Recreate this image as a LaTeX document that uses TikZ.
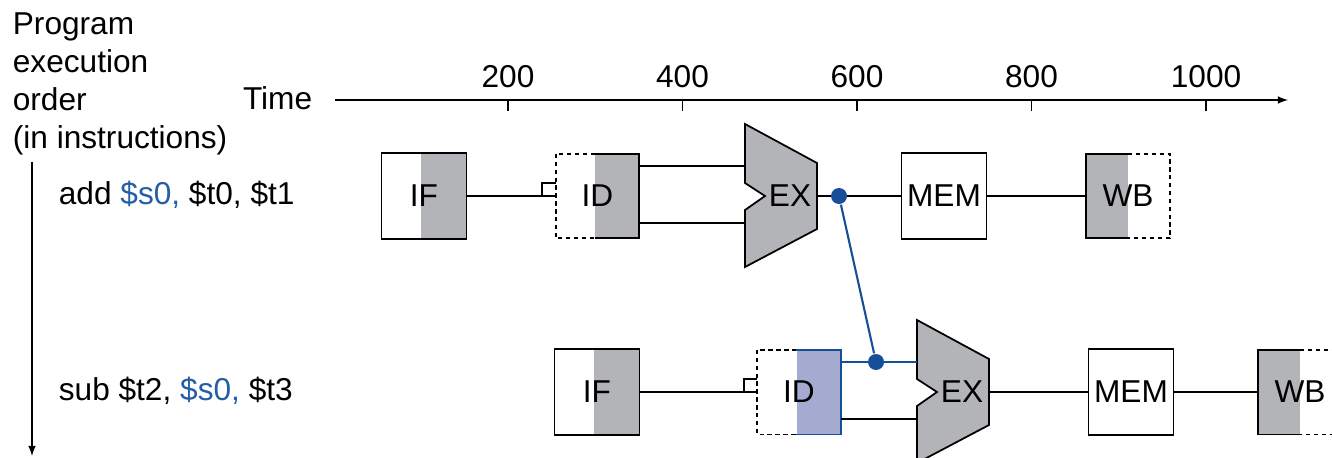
\documentclass[tikz,border=0pt]{standalone}
\usepackage{fontspec}
\setmainfont{Liberation Sans}
\usetikzlibrary{calc}
\definecolor{stagegray}{RGB}{179,180,183}
\definecolor{regblue}{RGB}{165,170,208}
\definecolor{fwdblue}{RGB}{23,78,152}
\definecolor{txtblue}{RGB}{36,94,166}
\begin{document}
\begin{tikzpicture}[x=0.02cm, y=-0.02cm, line width=1pt,
       font=\fontsize{18}{21.6}\selectfont]
       \tikzset{>=latex,
          stage/.style={minimum width=1.7cm, minimum height=1.72cm, inner sep=0pt},
          halfstage/.style={minimum width=1.64cm, minimum height=1.66cm, inner sep=0pt, fill=white},
          ifbox/.style={stage, draw, path picture={\fill[stagegray] ($(path picture bounding box.north west)!0.47!(path picture bounding box.north east)$) rectangle (path picture bounding box.south east);}},
          membox/.style={stage, draw, fill=white},
          idbox/.style={halfstage, path picture={\fill[#1] ($(path picture bounding box.north west)!0.47!(path picture bounding box.north east)$) rectangle (path picture bounding box.south east);}},
          wbbox/.style={halfstage, path picture={\fill[stagegray] (path picture bounding box.north west) rectangle (path picture bounding box.south);}},
          halfdash/.style={dash pattern=on 2.5pt off 2pt},
          fwddot/.style={circle, fill=fwdblue, inner sep=0pt, minimum size=0.32cm},
          lbl/.style={inner sep=0pt}}
       \useasboundingbox (0,0) rectangle (1332,457);
       % labels on the left
       \node[lbl, anchor=north west, align=left] (order) at (12,12) {Program\\execution\\order\\(in instructions)};
       \coordinate (oend) at (32,456);
       \draw[->] (order.south west -| oend) ++(0,6) -- (oend);
       \node[lbl, anchor=west] (add) at (58,195) {add \textcolor{txtblue}{\$s0,} \$t0, \$t1};
       \node[lbl, anchor=west] (sub) at (58,391) {sub \$t2, \textcolor{txtblue}{\$s0,} \$t3};
       % time axis
       \node[lbl, anchor=base east] (time) at (313,109) {Time};
       \coordinate (t0) at (335,100);
       \coordinate (t1) at (1288,100);
       \draw[->] (t0) -- (t1);
       \foreach \v [count=\i from 0] in {200,400,600,800,1000} {
          \draw (508+174.5*\i,100) -- ++(0,11);
          \node[lbl] (tick\v) at (508+174.5*\i,77) {\v};
       }
       % the two EX units
       \foreach \n/\x/\y in {ex1/745/196, ex2/917/392} {
          \filldraw[fill=stagegray] (\x,\y) ++(0,-72) -- ++(72,39) -- ++(0,66) -- ++(-72,38)
             -- ++(0,-57) -- ++(20,-14) -- ++(-20,-13) -- cycle;
          \node[lbl] (\n) at (\x+45,\y) {EX};
          \coordinate (\n-a) at (\x,\y-30);
          \coordinate (\n-b) at (\x,\y+27);
          \coordinate (\n-o) at (\x+72,\y);
       }
       % add
       \node[ifbox] (if1) at (424,196) {IF};
       \node[idbox=stagegray] (id1) at (597.5,196) {ID};
       \node[membox] (mem1) at (944,196) {MEM};
       \node[wbbox] (wb1) at (1128,196) {WB};
       % sub
       \node[ifbox] (if2) at (597,392) {IF};
       \node[idbox=regblue] (id2) at (799,392) {ID};
       \node[membox] (mem2) at (1131,392) {MEM};
       \node[wbbox] (wb2) at (1300,392) {WB};
       \foreach \n/\c in {id1/black, id2/fwdblue} {
          \coordinate (\n-m) at ($(\n.north west)!0.47!(\n.north east)$);
          \draw[halfdash] (\n-m) -| (\n.south west) -- (\n-m |- \n.south);
          \draw[\c] (\n-m) -| (\n.south east) -- (\n-m |- \n.south);
          \draw ([xshift=-0.27cm]\n.west) |- ([yshift=0.26cm]\n.west);
       }
       \foreach \n in {wb1, wb2} {
          \draw (\n.north) -| (\n.south west) -- (\n.south);
          \draw[halfdash] (\n.north) -| (\n.south east) -- (\n.south);
       }
       % connections
       \draw (if1) -- (id1);
       \draw (id1.east |- ex1-a) -- (ex1-a);
       \draw (id1.east |- ex1-b) -- (ex1-b);
       \draw (ex1-o) -- (mem1);
       \draw (mem1) -- (wb1);
       \draw (if2) -- (id2);
       \draw[fwdblue] (id2.east |- ex2-a) -- (ex2-a);
       \draw (id2.east |- ex2-b) -- (ex2-b);
       \draw (ex2-o) -- (mem2);
       \draw (mem2) -- (wb2);
       % forwarding
       \node[fwddot] (d1) at (839,196) {};
       \node[fwddot] (d2) at (876,362) {};
       \draw[fwdblue, line width=1.2pt] (d1) -- (d2);
   \end{tikzpicture}
\end{document}
